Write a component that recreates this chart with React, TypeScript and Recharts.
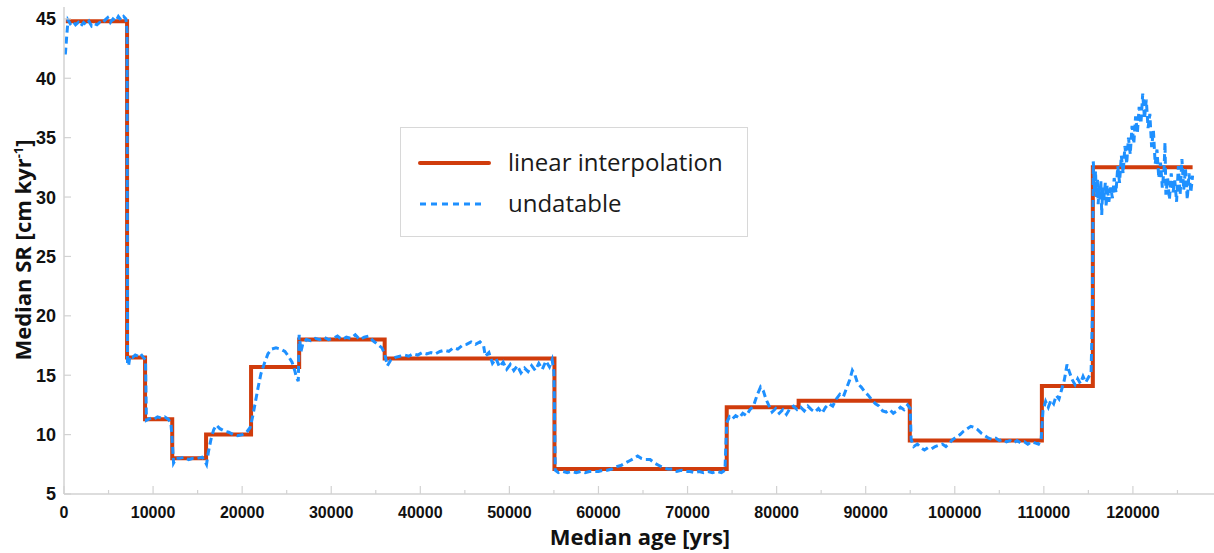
import React from "react";
import { Label, Line, LineChart, XAxis, YAxis } from "recharts";

// step model: [age (yrs), SR (cm/kyr)]
const interpolationSteps: [number, number][] = [
  [200, 44.8], [7080, 16.5], [9100, 11.3], [12150, 8.0], [15950, 10.0],
  [21000, 15.7], [26400, 18.0], [36000, 16.4], [55060, 7.1], [74400, 12.3],
  [82470, 12.85], [94950, 9.5], [109780, 14.1], [115500, 32.5], [126700, 32.5],
];

const undatable: [number, number][] = [
  [150, 42.0], [300, 43.5], [450, 44.9], [700, 44.6], [1000, 44.8], [1300, 44.5], [1600, 44.7],
  [1900, 44.4], [2200, 44.7], [2500, 44.5], [2800, 44.8], [3100, 44.4], [3400, 44.6], [3700, 44.5],
  [4000, 44.7], [4300, 44.6], [4600, 44.9], [4900, 45.1], [5200, 44.7], [5500, 45.0], [5800, 44.8],
  [6100, 45.2], [6400, 44.9], [6700, 45.2], [6950, 45.0], [7080, 44.0], [7100, 30.0], [7130, 16.0],
  [7250, 15.8], [7400, 16.6], [7700, 16.5], [8000, 16.7], [8300, 16.6], [8600, 16.8], [8900, 16.5],
  [9150, 16.3], [9250, 11.2], [9500, 11.3], [9800, 11.4], [10100, 11.3], [10500, 11.5], [10900, 11.4],
  [11300, 11.5], [11700, 11.3], [12000, 11.0], [12150, 9.5], [12300, 7.6], [12600, 8.0], [13000, 8.0],
  [13500, 8.1], [14000, 7.9], [14500, 8.0], [15000, 8.0], [15500, 8.1], [15800, 7.8], [16000, 7.5],
  [16200, 8.5], [16500, 9.6], [16800, 10.4], [17100, 10.8], [17500, 10.5], [18000, 10.3], [18500, 10.2],
  [19000, 10.0], [19500, 9.9], [20000, 10.0], [20500, 10.2], [20900, 10.6], [21200, 11.6], [21500, 12.8],
  [21800, 14.0], [22100, 15.1], [22500, 16.0], [22900, 16.8], [23300, 17.2], [23800, 17.3], [24300, 17.2],
  [24800, 17.0], [25200, 16.6], [25600, 16.1], [25900, 15.4], [26100, 14.8], [26300, 14.5], [26400, 18.4],
  [26600, 17.0], [26800, 17.6], [27200, 18.0], [27700, 17.9], [28200, 18.1], [28700, 18.0], [29200, 18.2],
  [29700, 18.0], [30200, 18.1], [30700, 18.3], [31200, 18.0], [31700, 18.2], [32200, 18.1], [32700, 18.4],
  [33200, 18.0], [33700, 18.2], [34200, 18.3], [34700, 17.9], [35200, 17.6], [35700, 17.3], [36000, 16.8],
  [36300, 15.8], [36700, 16.3], [37200, 16.5], [37700, 16.6], [38200, 16.7], [38700, 16.6], [39200, 16.8],
  [39700, 16.7], [40200, 16.9], [40700, 16.8], [41200, 16.9], [41700, 16.8], [42200, 17.0], [42700, 17.1],
  [43200, 17.0], [43700, 17.3], [44200, 17.2], [44700, 17.5], [45200, 17.6], [45700, 17.8], [46200, 17.6],
  [46700, 17.8], [47100, 17.5], [47300, 16.6], [47700, 16.9], [48100, 16.0], [48500, 16.4], [48900, 15.7],
  [49300, 16.1], [49700, 15.5], [50100, 15.9], [50500, 15.4], [50900, 15.8], [51300, 15.2], [51700, 15.6],
  [52100, 15.3], [52500, 15.8], [52900, 15.4], [53300, 16.0], [53700, 15.5], [54100, 16.2], [54500, 15.7],
  [54800, 16.3], [55000, 15.3], [55150, 7.0], [55500, 6.8], [56000, 6.9], [56500, 6.8], [57000, 6.9],
  [57500, 6.8], [58000, 6.9], [58500, 6.8], [59000, 6.9], [59500, 6.9], [60000, 6.9], [60500, 7.0],
  [61000, 7.0], [61500, 7.1], [62000, 7.3], [62500, 7.4], [63000, 7.6], [63500, 7.8], [64000, 8.0],
  [64400, 8.2], [64800, 8.0], [65300, 7.9], [65800, 7.9], [66300, 7.6], [66800, 7.4], [67300, 7.2],
  [67800, 7.1], [68300, 7.1], [68800, 6.9], [69300, 7.0], [69800, 6.9], [70300, 6.9], [70800, 6.8],
  [71300, 6.9], [71800, 6.8], [72300, 6.9], [72800, 6.8], [73300, 6.9], [73800, 6.8], [74200, 7.0],
  [74400, 11.0], [74700, 11.5], [75000, 11.3], [75400, 11.6], [75800, 11.4], [76200, 11.8], [76600, 11.6],
  [77000, 12.1], [77400, 12.4], [77800, 13.3], [78200, 14.0], [78500, 13.7], [78800, 13.0], [79100, 12.5],
  [79500, 11.9], [79900, 12.2], [80300, 11.8], [80700, 12.1], [81100, 11.7], [81500, 12.2], [81900, 12.4],
  [82300, 12.1], [82700, 12.3], [83100, 12.0], [83500, 12.4], [83900, 12.1], [84300, 11.9], [84700, 12.2],
  [85100, 11.8], [85500, 12.3], [85900, 12.6], [86300, 12.4], [86700, 13.0], [87100, 13.4], [87500, 13.2],
  [87900, 14.0], [88200, 14.6], [88500, 15.4], [88800, 15.0], [89100, 14.3], [89500, 14.0], [89900, 13.6],
  [90300, 13.3], [90700, 12.9], [91100, 12.6], [91500, 12.4], [91900, 12.0], [92300, 11.9], [92700, 12.1],
  [93100, 11.8], [93500, 12.0], [93900, 12.3], [94300, 12.1], [94700, 12.5], [95000, 12.2], [95100, 9.6],
  [95400, 9.0], [95800, 9.2], [96200, 8.9], [96600, 8.7], [97000, 8.9], [97400, 8.8], [97800, 9.0],
  [98200, 9.1], [98600, 9.2], [99000, 9.0], [99400, 9.3], [99800, 9.6], [100200, 9.8], [100600, 10.0],
  [101000, 10.3], [101400, 10.5], [101800, 10.7], [102200, 10.6], [102600, 10.4], [103000, 10.1],
  [103400, 9.9], [103800, 9.7], [104200, 9.6], [104600, 9.7], [105000, 9.5], [105400, 9.6], [105800, 9.4],
  [106200, 9.5], [106600, 9.3], [107000, 9.5], [107400, 9.3], [107800, 9.4], [108200, 9.2], [108600, 9.4],
  [109000, 9.3], [109400, 9.2], [109700, 9.6], [109900, 12.0], [110200, 12.8], [110500, 12.3],
  [110800, 12.9], [111100, 12.6], [111400, 13.3], [111700, 13.0], [112000, 13.8], [112300, 14.6],
  [112600, 15.9], [112900, 15.2], [113200, 14.6], [113500, 14.2], [113800, 14.7], [114100, 14.3],
  [114400, 14.9], [114700, 14.4], [115000, 14.8], [115300, 15.2], [115450, 20.0], [115550, 33.0],
  [115700, 30.5], [115800, 32.2], [115900, 30.0], [116000, 31.6], [116100, 29.4], [116200, 31.0],
  [116300, 29.8], [116400, 31.4], [116500, 28.5], [116600, 30.8], [116700, 29.6], [116900, 31.2],
  [117000, 29.2], [117100, 31.0], [117300, 29.6], [117500, 30.8], [117700, 29.9], [117900, 31.6],
  [118100, 30.4], [118300, 32.6], [118500, 31.2], [118700, 33.5], [118900, 32.0], [119100, 34.3],
  [119300, 32.8], [119500, 35.0], [119700, 33.6], [119900, 36.0], [120100, 34.5], [120300, 36.8],
  [120500, 35.4], [120700, 37.6], [120900, 36.2], [121100, 38.7], [121300, 36.6], [121500, 38.2],
  [121700, 35.8], [121900, 37.0], [122100, 34.2], [122300, 35.6], [122500, 32.8], [122700, 34.0],
  [122900, 31.6], [123100, 32.9], [123300, 30.8], [123500, 32.4], [123600, 34.6], [123700, 30.2],
  [123900, 31.6], [124100, 29.8], [124300, 32.0], [124500, 30.4], [124700, 31.4], [124900, 29.6],
  [125100, 32.6], [125300, 30.2], [125500, 33.2], [125700, 30.6], [125900, 32.4], [126100, 29.8],
  [126300, 32.0], [126500, 30.4], [126700, 31.8],
];

const ageTicks = [
  0, 5000, 10000, 15000, 20000, 25000, 30000, 35000, 40000, 45000, 50000, 55000, 60000,
  65000, 70000, 75000, 80000, 85000, 90000, 95000, 100000, 105000, 110000, 115000, 120000, 125000,
];
const srTicks = [5, 10, 15, 20, 25, 30, 35, 40, 45];

const RED = "#d03c0c";
const BLUE = "#1e90ff";
const AXIS = "#d2d2d2";
const tickFont = "'Liberation Sans', Arial, sans-serif";
const titleFont = "'Open Sans', sans-serif";

const stepData = interpolationSteps.map(([age, sr]) => ({ age, sr }));
const undatableData = undatable.map(([age, sr]) => ({ age, sr }));

function AgeTick(props: any) {
  const { x, y, payload } = props;
  const major = payload.value % 10000 === 0;
  return (
    <g>
      <line x1={x} x2={x} y1={y} y2={y - (major ? 8 : 4)} stroke={AXIS} strokeWidth={1.2} />
      {major && (
        <text x={x} y={y + 24} textAnchor="middle" fontFamily={tickFont} fontWeight="bold" fontSize={16} fill="#111">
          {payload.value}
        </text>
      )}
    </g>
  );
}

function SrTick(props: any) {
  const { x, y, payload } = props;
  return (
    <g>
      <line x1={x} x2={x + 7} y1={y} y2={y} stroke={AXIS} strokeWidth={1.2} />
      <text x={x - 8} y={y} dy="0.36em" textAnchor="end" fontFamily={tickFont} fontWeight="bold" fontSize={18} fill="#111">
        {payload.value}
      </text>
    </g>
  );
}

function ChartLegend() {
  return (
    <div
      style={{
        position: "absolute",
        left: 400,
        top: 127,
        width: 346,
        height: 108,
        border: "1px solid #d8d8d8",
        background: "#fff",
        fontFamily: titleFont,
        fontSize: 24,
        color: "#1a1a1a",
      }}
    >
      <svg width={90} height={108} style={{ position: "absolute", left: 0, top: 0 }}>
        <line x1={19} x2={88} y1={35} y2={35} stroke={RED} strokeWidth={4} strokeLinecap="round" />
        <line x1={19} x2={82} y1={76} y2={76} stroke={BLUE} strokeWidth={3} strokeDasharray="6 5" />
      </svg>
      <div style={{ position: "absolute", left: 107, top: 17, lineHeight: "34px", whiteSpace: "nowrap" }}>
        linear interpolation
      </div>
      <div style={{ position: "absolute", left: 107, top: 58, lineHeight: "34px", whiteSpace: "nowrap" }}>
        undatable
      </div>
    </div>
  );
}

export default function App() {
  return (
    <div style={{ position: "fixed", left: 0, top: 0, width: 1214, height: 553, overflow: "hidden", background: "#fff" }}>
      <LineChart width={1240} height={553} margin={{ top: 7, right: 18, left: 0, bottom: 29 }}>
        <XAxis
          type="number"
          dataKey="age"
          domain={[0, 130000]}
          ticks={ageTicks}
          interval={0}
          height={30}
          tickSize={0}
          tickMargin={0}
          tickLine={false}
          axisLine={{ stroke: AXIS, strokeWidth: 1.5 }}
          tick={(p: any) => <AgeTick {...p} />}
        >
          <Label
            content={() => (
              <text x={640} y={545} textAnchor="middle" fontFamily={titleFont} fontWeight={700} fontSize={22} fill="#111">
                Median age [yrs]
              </text>
            )}
          />
        </XAxis>
        <YAxis
          type="number"
          domain={[5, 46]}
          ticks={srTicks}
          interval={0}
          width={64}
          tickSize={0}
          tickMargin={0}
          tickLine={false}
          axisLine={{ stroke: AXIS, strokeWidth: 1.5 }}
          tick={(p: any) => <SrTick {...p} />}
        >
          <Label
            content={() => (
              <text
                x={31}
                y={250}
                transform="rotate(-90 31 250)"
                textAnchor="middle"
                fontFamily={titleFont}
                fontWeight={700}
                fontSize={22}
                fill="#111"
              >
                Median SR [cm kyr<tspan dy={-8} fontSize={13}>-1</tspan>
                <tspan dy={8}>]</tspan>
              </text>
            )}
          />
        </YAxis>
        <Line
          data={stepData}
          dataKey="sr"
          type="stepAfter"
          stroke={RED}
          strokeWidth={4}
          dot={false}
          activeDot={false}
          isAnimationActive={false}
        />
        <Line
          data={undatableData}
          dataKey="sr"
          type="linear"
          stroke={BLUE}
          strokeWidth={3}
          strokeDasharray="7 4"
          dot={false}
          activeDot={false}
          isAnimationActive={false}
        />
      </LineChart>
      <ChartLegend />
    </div>
  );
}
